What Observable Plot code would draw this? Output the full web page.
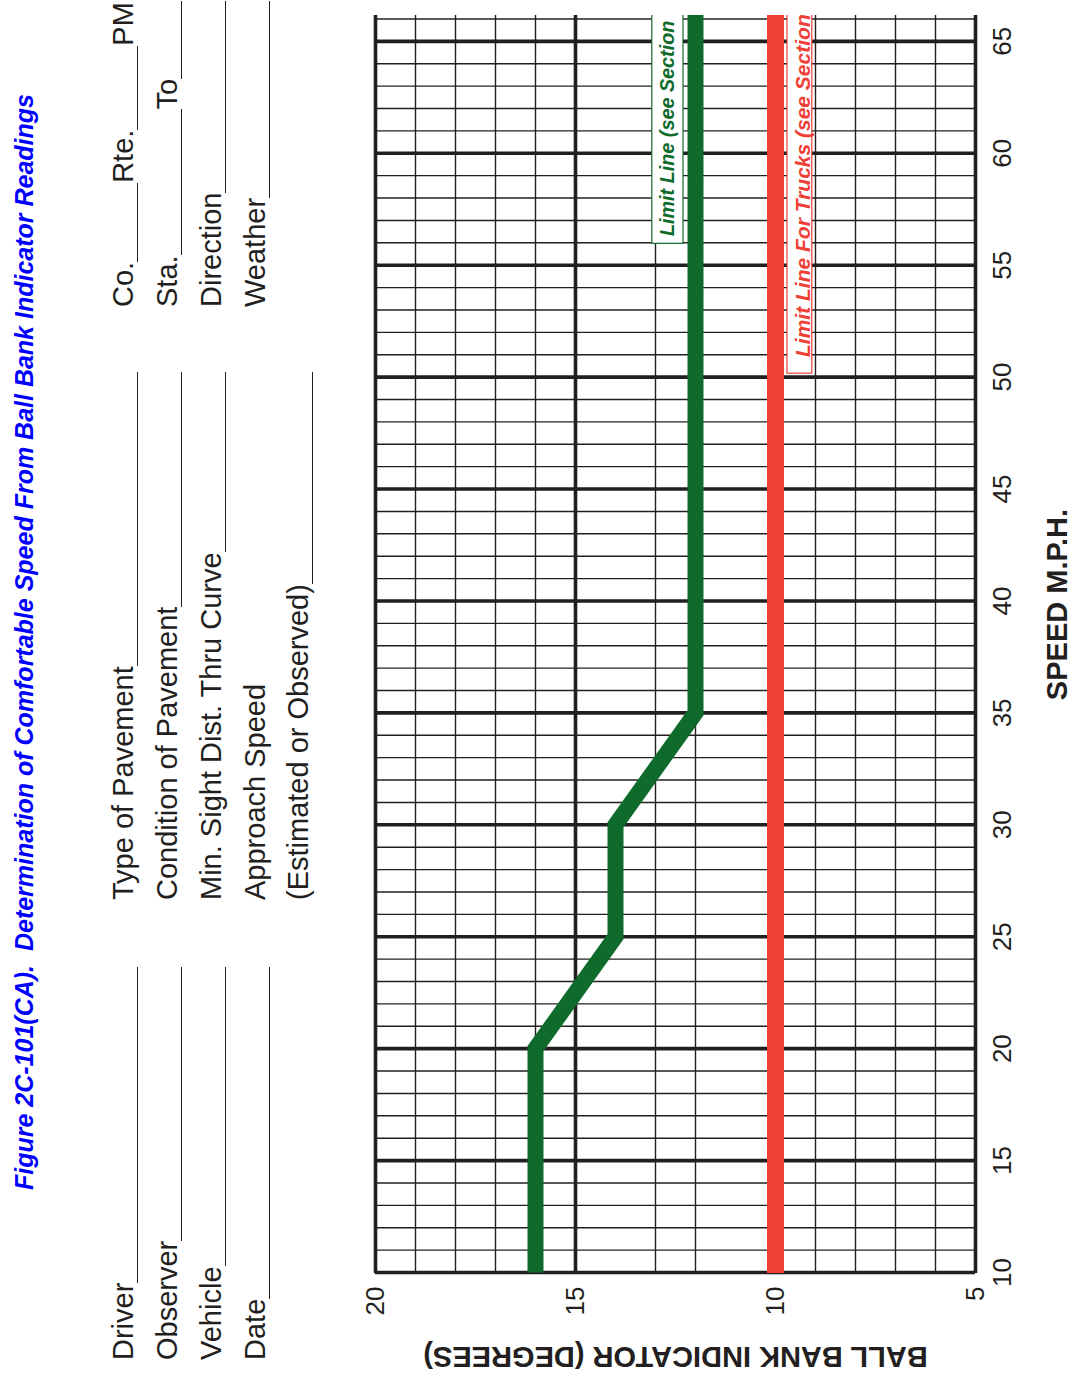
<!DOCTYPE html>
<html>
<head>
<meta charset="utf-8">
<script src="https://cdn.jsdelivr.net/npm/d3@7"></script>
<script src="https://cdn.jsdelivr.net/npm/@observablehq/plot@0.6"></script>
<style>
html, body { margin:0; padding:0; background:#fff; width:1081px; height:1385px; overflow:hidden; }
#page { position:absolute; left:0; top:0; width:1385px; height:1081px; transform-origin:0 0;
  transform: translate(0px,1385px) rotate(-90deg);
  font-family:"Liberation Sans", Arial, Helvetica, sans-serif; color:#231f20; overflow:hidden; }
#title { position:absolute; left:195px; top:12px; font-size:25px; line-height:25px; font-weight:bold; font-style:italic; color:#0000ff; white-space:pre; }
.row { position:absolute; display:flex; align-items:flex-end; height:29px; font-size:29px; line-height:29px; white-space:nowrap; }
.row .t { flex:0 0 auto; }
.row .l { border-bottom:1.5px solid #231f20; height:0; align-self:flex-end; }
#chart { position:absolute; left:0; top:0; }
</style>
</head>
<body>
<div id="page">
  <div id="chart"></div>
  <div id="title"></div>
  <div id="form"></div>
</div>
<script>
// ---------- text data ----------
const titleText = "Figure 2C-101(CA).  Determination of Comfortable Speed From Ball Bank Indicator Readings";
const formCol1 = ["Driver", "Observer", "Vehicle", "Date"];
const formCol2 = ["Type of Pavement", "Condition of Pavement", "Min. Sight Dist. Thru Curve", "Approach Speed", "(Estimated or Observed)"];
const formCol3 = [["Co.", "Rte.", "PM"], ["Sta.", "To"], ["Direction"], ["Weather"]];

// ---------- chart data ----------
const speedTicks = [10, 15, 20, 25, 30, 35, 40, 45, 50, 55, 60, 65];
const bankTicks = [5, 10, 15, 20];
const minorBank = [19, 18, 17, 16, 13, 12, 9, 8, 7, 6];
const limitSpeed = [10, 20, 25, 30, 35, 70];
const limitBank = [16, 16, 14, 14, 12, 12];
const truckBank = 10;
const labelTexts = ["Limit Line (see Section", "Limit Line For Trucks (see Section"];
const labelBoxSpeed = [56.0, 50.2];
const labelTextSpeed = [56.3, 50.9];
const labelBankHigh = [13.08, 9.7];
const labelBankLow = [12.3, 9.08];
const xTitle = "SPEED M.P.H.";
const yTitle = "BALL BANK INDICATOR (DEGREES)";

// ---------- styles ----------
const ink = "#231f20";
const green = "#0f6b2b";
const red = "#ee4036";

// ---------- title + form ----------
document.getElementById("title").textContent = titleText;
const form = document.getElementById("form");
const lineV = [138, 182, 226, 270, 313];
function makeRow(left, right, v, parts, fillers) {
  const row = document.createElement("div");
  row.className = "row";
  row.style.left = left + "px";
  row.style.width = (right - left) + "px";
  row.style.top = (v - 29) + "px";
  parts.forEach((p, i) => {
    const t = document.createElement("span");
    t.className = "t"; t.textContent = p; row.appendChild(t);
    const f = fillers[i];
    if (f === null) return;
    const l = document.createElement("span");
    l.className = "l";
    if (f === "flex") { l.style.flex = "1 1 auto"; l.style.minWidth = "0px"; }
    else { l.style.flex = "0 0 " + f + "px"; }
    row.appendChild(l);
  });
  form.appendChild(row);
}
formCol1.forEach((s, i) => makeRow(25, 418, lineV[i], [s], ["flex"]));
formCol2.forEach((s, i) => makeRow(485, 1013, lineV[i], [s], [i === 3 ? null : "flex"]));
const col3Fillers = [[79, 84, null], [146, "flex"], ["flex"], ["flex"]];
formCol3.forEach((parts, i) => makeRow(1078, 1384, lineV[i], parts, col3Fillers[i]));

// ---------- chart ----------
const minorSpeed = d3.range(11, 67).filter(d => d % 5 !== 0);
const limitData = limitSpeed.map((s, i) => ({speed: s, bank: limitBank[i]}));
const labelSizes = [19.8, 21];

const labelMarks = [0, 1].flatMap(i => {
  const c = i === 0 ? green : red;
  return [
    Plot.rect([i], {x1: labelBoxSpeed[i], x2: 70, y1: labelBankLow[i], y2: labelBankHigh[i],
      fill: "white", stroke: c, strokeWidth: 1.2, clip: true}),
    Plot.text([i], {x: labelTextSpeed[i], y: (labelBankHigh[i] + labelBankLow[i]) / 2,
      text: () => labelTexts[i], textAnchor: "start", lineAnchor: "middle", fill: c, fontSize: labelSizes[i],
      fontWeight: "bold", fontStyle: "italic", dy: i === 0 ? 0 : 3})
  ];
});

const chart = Plot.plot({
  width: 1385, height: 1081,
  marginLeft: 112, marginRight: 15, marginTop: 375, marginBottom: 106,
  style: {fontFamily: "'Liberation Sans', Arial, Helvetica, sans-serif", fontSize: "26px", color: ink, background: "transparent", overflow: "visible"},
  x: {domain: [10, 66.2]},
  y: {domain: [5, 20]},
  marks: [
    Plot.ruleX(minorSpeed, {stroke: ink, strokeWidth: 1.4}),
    Plot.ruleY(minorBank, {stroke: ink, strokeWidth: 1.4}),
    Plot.ruleX(speedTicks, {stroke: ink, strokeWidth: 3.6}),
    Plot.ruleY(bankTicks, {stroke: ink, strokeWidth: 3.6}),
    Plot.ruleY([truckBank], {stroke: red, strokeWidth: 17}),
    Plot.line(limitData, {x: "speed", y: "bank", stroke: green, strokeWidth: 16,
      strokeLinejoin: "miter", strokeMiterlimit: 4, strokeLinecap: "butt", clip: true}),
    ...labelMarks,
    Plot.axisX(speedTicks, {tickSize: 0, tickPadding: 17, fontSize: 26, label: null, tickFormat: d => String(d)}),
    Plot.axisY(bankTicks, {tickSize: 0, tickPadding: 14, fontSize: 26, label: null, tickFormat: d => String(d)}),
    Plot.text([xTitle], {frameAnchor: "bottom", text: d => d, textAnchor: "middle", lineAnchor: "middle", dx: 39, dy: 82, fontSize: 29, fontWeight: "bold", fill: ink}),
    Plot.text([yTitle], {frameAnchor: "left", text: d => d, textAnchor: "middle", lineAnchor: "middle", rotate: -90, dx: -84, fontSize: 29, fontWeight: "bold", fill: ink})
  ]
});
document.getElementById("chart").appendChild(chart);
</script>
</body>
</html>
